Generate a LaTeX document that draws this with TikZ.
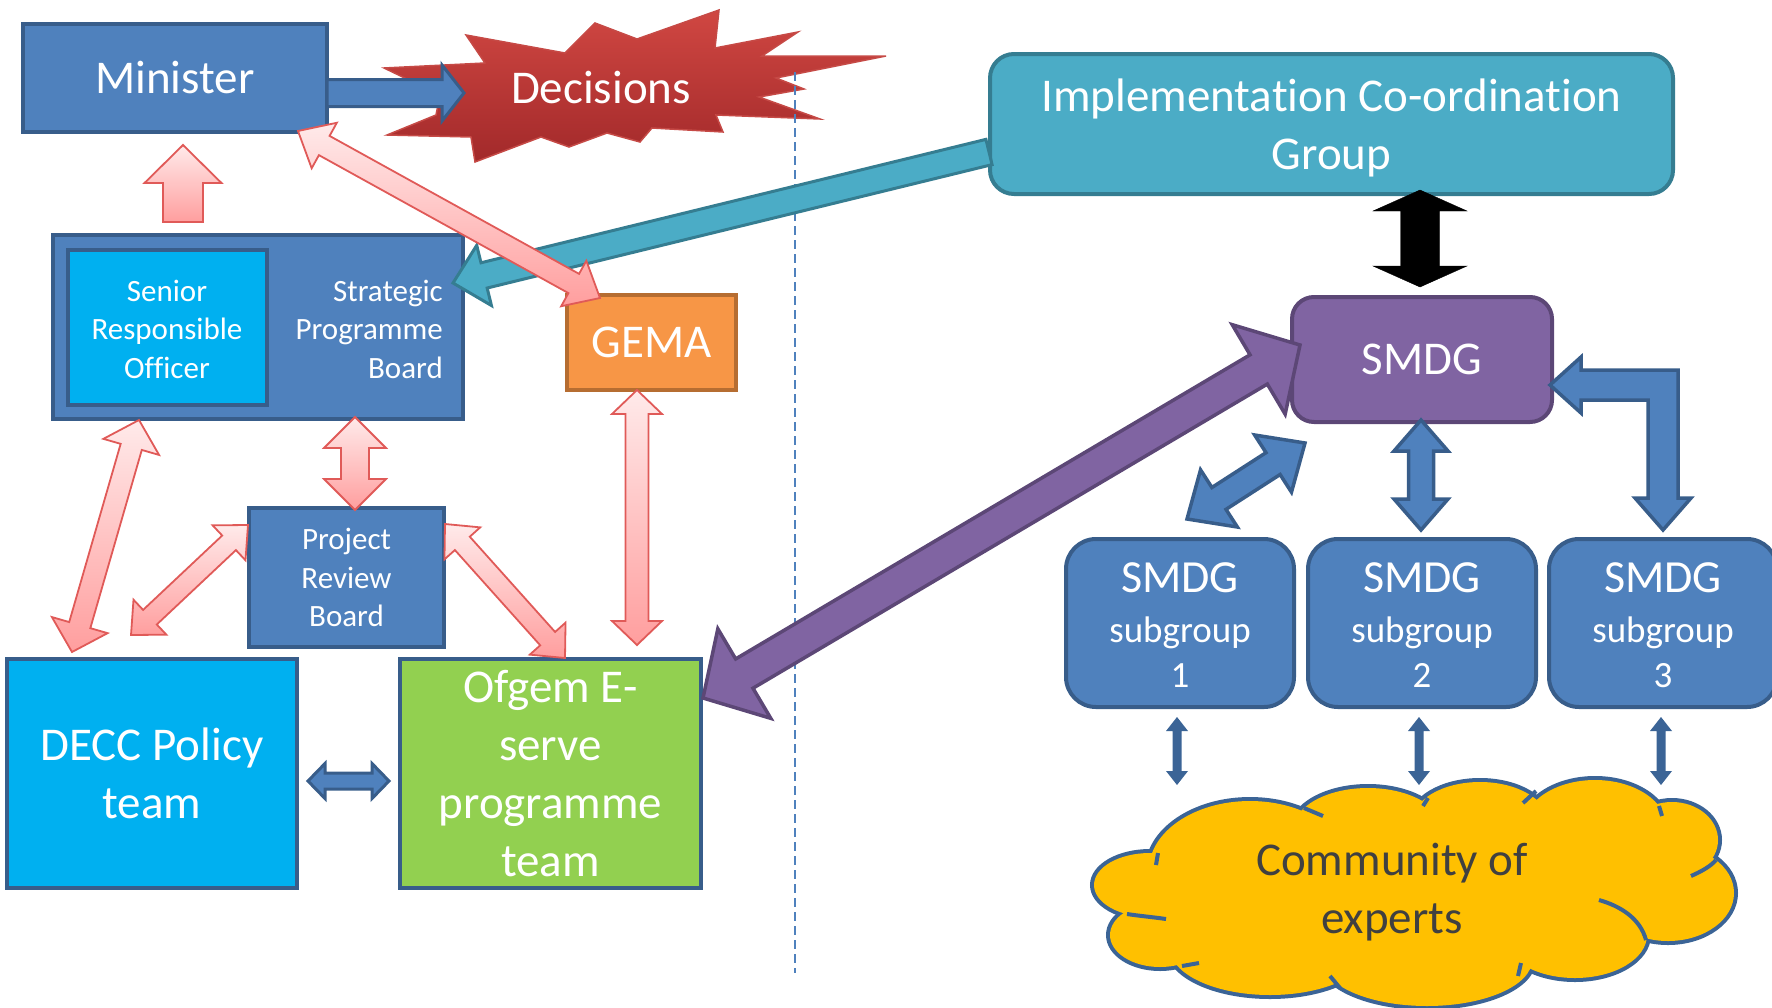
\documentclass[tikz,border=0pt]{standalone}
\usepackage{fontspec}
\setmainfont{Carlito}[Ligatures=CommonOff]
\usetikzlibrary{calc}

\definecolor{bfill}{HTML}{4F81BD}
\definecolor{bline}{HTML}{385D8A}
\definecolor{cyanfill}{HTML}{00B0F0}
\definecolor{greenfill}{HTML}{92D050}
\definecolor{orangefill}{HTML}{F79646}
\definecolor{orangeline}{HTML}{B66D31}
\definecolor{tealfill}{HTML}{4BACC6}
\definecolor{tealline}{HTML}{357D91}
\definecolor{purplefill}{HTML}{8064A2}
\definecolor{purpleline}{HTML}{5C4776}
\definecolor{pinkL}{HTML}{FFEAEA}
\definecolor{pinkD}{HTML}{FF9E9E}
\definecolor{pinkline}{HTML}{E05A58}
\definecolor{starT}{HTML}{D04742}
\definecolor{starB}{HTML}{A2292A}
\definecolor{starline}{HTML}{C64A46}
\definecolor{cloudfill}{HTML}{FFC000}
\definecolor{cloudline}{HTML}{3B6496}
\definecolor{greytext}{HTML}{404040}

\newcommand{\fntL}{\fontsize{47}{58}\selectfont}
\newcommand{\fntS}{\fontsize{31}{38.5}\selectfont}
\newcommand{\fntSub}{\fontsize{37}{45}\selectfont}

% double block arrow: style, end A, end B, shaft half width, head half width, head length
\newcommand{\dblarrow}[6]{%
  \draw[#1] (#2)
   -- ($(#2)!#6!(#3)!#5!90:(#3)$)
   -- ($(#2)!#6!(#3)!#4!90:(#3)$)
   -- ($(#3)!#6!(#2)!#4!-90:(#2)$)
   -- ($(#3)!#6!(#2)!#5!-90:(#2)$)
   -- (#3)
   -- ($(#3)!#6!(#2)!#5!90:(#2)$)
   -- ($(#3)!#6!(#2)!#4!90:(#2)$)
   -- ($(#2)!#6!(#3)!#4!-90:(#3)$)
   -- ($(#2)!#6!(#3)!#5!-90:(#3)$)
   -- cycle;}
% single block arrow: style, tail, tip, shaft half width, head half width, head length
\newcommand{\sglarrow}[6]{%
  \draw[#1] (#3)
   -- ($(#3)!#6!(#2)!#5!90:(#2)$)
   -- ($(#3)!#6!(#2)!#4!90:(#2)$)
   -- ($(#2)!#4!-90:(#3)$)
   -- ($(#2)!#4!90:(#3)$)
   -- ($(#3)!#6!(#2)!#4!-90:(#2)$)
   -- ($(#3)!#6!(#2)!#5!-90:(#2)$)
   -- cycle;}

\tikzset{
  box/.style={draw=bline, line width=4pt, fill=bfill, text=white, inner sep=0pt, align=center},
  pinkarrow/.style={draw=pinkline, line width=1.8pt, top color=pinkL, bottom color=pinkD, line join=miter},
  bluearrow/.style={draw=bline, line width=3.5pt, fill=bfill, line join=miter},
  smallarrow/.style={fill=cloudline, draw=none},
  cloudstub/.style={draw=cloudline, line width=4pt},
}

\begin{document}
\begin{tikzpicture}[x=1pt, y=-1pt]
\useasboundingbox (0,0) rectangle (1772,1007);

% ---------- Decisions burst ----------
\draw[starline, line width=1.5pt, top color=starT, bottom color=starB]
  (384,68) -- (485,63) -- (466,35) -- (565,53) -- (595,23) -- (637,39)
  -- (719,10) -- (715,48) -- (798,32) -- (762,56) -- (886,56) -- (776,78)
  -- (804,89) -- (759,97) -- (820,119) -- (716,115) -- (723,132) -- (652,128)
  -- (640,142) -- (607,133) -- (569,147) -- (541,137) -- (475,162) -- (471,137)
  -- (387,135) -- (436,115) -- (440,95) -- cycle;
\node[text=white, font=\fntL] (dec) at (601,88) {Decisions};

% ---------- dashed divider ----------
\coordinate (divtop) at (795,72);
\coordinate (divbot) at (795,973);
\draw[bfill, line width=2pt, dash pattern=on 9pt off 5pt] (divtop) -- (divbot);

% ---------- boxes ----------
\node[box, minimum width=304pt, minimum height=108pt, font=\fntL] (min) at (175,78) {Minister};

\node[box, minimum width=410pt, minimum height=184pt] (spb) at (258,327) {};
\node[draw=bline, line width=4pt, fill=cyanfill, minimum width=199pt, minimum height=155pt, inner sep=0pt] (sro) at (167.5,327.5) {};
\node[text=white, font=\fntS, align=center, inner sep=0pt] (srot) at (167,329) {Senior\\Responsible\\Officer};
\node[text=white, font=\fntS, align=right, anchor=east, inner sep=0pt] (spbt) at (443,329) {Strategic\\Programme\\Board};

\node[draw=orangeline, line width=4pt, fill=orangefill, text=white, font=\fntL, minimum width=169pt, minimum height=95pt, inner sep=0pt] (gema) at (651.5,342.5) {GEMA};

\node[box, font=\fntS, minimum width=195pt, minimum height=139pt] (prb) at (346.5,577.5) {Project\\Review\\Board};

\node[draw=bline, line width=4pt, fill=cyanfill, text=white, font=\fntL, align=center, minimum width=290pt, minimum height=229pt, inner sep=0pt] (decc) at (152,773.5) {DECC Policy\\team};

\node[draw=bline, line width=4pt, fill=greenfill, text=white, font=\fntL, align=center, minimum width=301pt, minimum height=229pt, inner sep=0pt] (ofg) at (550.5,773.5) {Ofgem E-\\serve\\programme\\team};

\node[draw=tealline, line width=4pt, fill=tealfill, text=white, font=\fntL, align=center, rounded corners=24pt, minimum width=683pt, minimum height=140pt, inner sep=0pt] (icg) at (1331.5,124) {};
\node[text=white, font=\fntL, align=center, inner sep=0pt] (icgt) at (1331.5,128) {Implementation Co-ordination\\Group};

\node[draw=purpleline, line width=4pt, fill=purplefill, text=white, font=\fntL, rounded corners=22pt, minimum width=260pt, minimum height=125pt, inner sep=0pt] (smdg) at (1422,359.5) {SMDG};

\foreach \i/\cx in {1/1180,2/1422,3/1663}{
  \node[box, rounded corners=30pt, minimum width=228pt, minimum height=168pt] (sub\i) at (\cx,623) {};
  \node[text=white, font=\fntSub, align=center, inner sep=0pt] (sub\i t) at (\cx,625) {{\fontsize{46}{48}\selectfont SMDG}\\[5pt]subgroup\\\i};
}

% ---------- cloud ----------
\def\lobes{1150/885/56/32, 1160/935/50/32, 1270/948/100/47, 1427/960/105/46,
  1575/935/72/43, 1668/893/66/48, 1672/840/46/38, 1595/828/72/48,
  1480/822/68/40, 1368/830/75/42, 1250/870/101/69}
\foreach \cx/\cy/\rx/\ry in \lobes
  \draw[cloudline, line width=8pt, fill=cloudfill] (\cx,\cy) ellipse [x radius=\rx pt, y radius=\ry pt];
\foreach \cx/\cy/\rx/\ry in \lobes
  \fill[cloudfill] (\cx,\cy) ellipse [x radius=\rx pt, y radius=\ry pt];
\fill[cloudfill] (1400,893) ellipse [x radius=230pt, y radius=65pt];
\draw[cloudstub] (1158,853) -- (1156,865);
\draw[cloudstub] (1127,914) .. controls (1140,916) and (1152,917) .. (1166,919);
\draw[cloudstub] (1182,966) -- (1199,963);
\draw[cloudstub] (1330,976) -- (1340,988);
\draw[cloudstub] (1521,963) -- (1518,976);
\draw[cloudstub] (1599,900) .. controls (1620,906) and (1640,918) .. (1646,940);
\draw[cloudstub] (1691,876) .. controls (1700,872) and (1710,867) .. (1716,860);
\draw[cloudstub] (1659,806) -- (1662,816);
\draw[cloudstub] (1536,791) -- (1523,803);
\draw[cloudstub] (1428,798) -- (1423,806);
\draw[cloudstub] (1304,808) -- (1323,816);
\node[text=greytext, font=\fntL, align=center, inner sep=0pt] (cloud) at (1392,892) {Community of\\experts};

% ---------- connector end points ----------
\coordinate (a1s) at (327,93);   \coordinate (a1e) at (464,93);
\coordinate (a2s) at (183,222);  \coordinate (a2e) at (183,145);
\coordinate (a3s) at (298,131);  \coordinate (a3e) at (600,298);
\coordinate (a4s) at (989,152);  \coordinate (a4e) at (453,283);
\coordinate (a5s) at (139,420);  \coordinate (a5e) at (72,652);
\coordinate (a6s) at (355,417);  \coordinate (a6e) at (355,510);
\coordinate (a7s) at (637,390);  \coordinate (a7e) at (637,645);
\coordinate (a8s) at (248,525);  \coordinate (a8e) at (131,635);
\coordinate (a9s) at (445,524);  \coordinate (a9e) at (565,658);
\coordinate (a10s) at (308,781); \coordinate (a10e) at (389,781);
\coordinate (a11s) at (703,698); \coordinate (a11e) at (1300,345);
\coordinate (a12s) at (1420,190); \coordinate (a12e) at (1420,287);
\coordinate (a13s) at (1421,420); \coordinate (a13e) at (1421,530);
\coordinate (a14s) at (1305,443); \coordinate (a14e) at (1187,519);
\coordinate (c1s) at (1177,717); \coordinate (c1e) at (1177,785);
\coordinate (c2s) at (1419,717); \coordinate (c2e) at (1419,785);
\coordinate (c3s) at (1661,717); \coordinate (c3e) at (1661,785);

% ---------- connectors ----------
\sglarrow{bluearrow, line width=3pt}{a1s}{a1e}{13.5pt}{28pt}{22pt}
\sglarrow{draw=tealline, line width=3pt, fill=tealfill, line join=miter}{a4s}{a4e}{13pt}{31pt}{32pt}

\sglarrow{pinkarrow}{a2s}{a2e}{20pt}{38.5pt}{38pt}
\dblarrow{pinkarrow}{a3s}{a3e}{11pt}{26pt}{30pt}
\dblarrow{pinkarrow}{a5s}{a5e}{11pt}{29pt}{28pt}
\dblarrow{pinkarrow}{a6s}{a6e}{14pt}{31pt}{31pt}
\dblarrow{pinkarrow}{a7s}{a7e}{11.5pt}{25pt}{24pt}
\dblarrow{pinkarrow}{a8s}{a8e}{10pt}{24pt}{26pt}
\dblarrow{pinkarrow}{a9s}{a9e}{10pt}{24pt}{26pt}

\dblarrow{bluearrow, line width=3pt}{a10s}{a10e}{8pt}{17.5pt}{17pt}
\dblarrow{draw=purpleline, line width=3.5pt, fill=purplefill, line join=miter}{a11s}{a11e}{17pt}{52pt}{48pt}
\dblarrow{fill=black}{a12s}{a12e}{19.5pt}{47pt}{21pt}
\dblarrow{bluearrow}{a13s}{a13e}{12.5pt}{27pt}{31pt}
\dblarrow{bluearrow}{a14s}{a14e}{13pt}{34pt}{38pt}

% elbow arrow SMDG <-> subgroup 3
\coordinate (e1) at (1550,385);
\coordinate (e2) at (1663,530);
\draw[bluearrow] (e1) -- ++(31,-28) -- ++(0,13) -- (1678,370) -- (1678,498) -- (1691,498)
  -- (e2) -- (1635,498) -- (1648,498) -- (1648,400) -- (1581,400) -- (1581,413) -- cycle;

\dblarrow{smallarrow}{c1s}{c1e}{4.5pt}{11pt}{14pt}
\dblarrow{smallarrow}{c2s}{c2e}{4.5pt}{11pt}{14pt}
\dblarrow{smallarrow}{c3s}{c3e}{4.5pt}{11pt}{14pt}

\end{tikzpicture}
\end{document}
